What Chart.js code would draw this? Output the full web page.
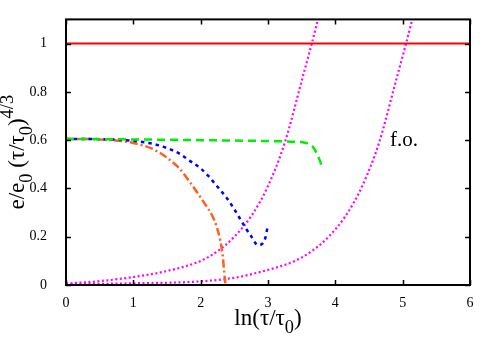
<!DOCTYPE html>
<html lang="en">
<head>
    <meta charset="UTF-8">
    <title>Energy density</title>
    <script src="https://cdn.jsdelivr.net/npm/chart.js"></script>
    <style>
        body { margin: 0; background: #fff; }
        #wrap { width: 498px; height: 349px; }
    </style>
</head>
<body>
    <div id="wrap"><canvas id="energyChart" width="498" height="349"></canvas></div>
    <script>
// values: x = ln(tau/tau0), y = e/e0 (tau/tau0)^(4/3)
const xTicks = [0, 1, 2, 3, 4, 5, 6];
const yTicks = [0, 0.2, 0.4, 0.6, 0.8, 1];

const idealX = [0, 6];
const idealY = [1, 1];

const greenX = [0, 1, 2, 3, 3.4, 3.55, 3.65, 3.72, 3.77, 3.8];
const greenY = [0.605, 0.603, 0.6, 0.596, 0.593, 0.589, 0.578, 0.548, 0.515, 0.49];

const blueX = [0, 0.5, 1, 1.3, 1.5, 1.69, 1.84, 1.99, 2.11, 2.21, 2.31, 2.41, 2.5, 2.59, 2.67, 2.76, 2.85, 2.92, 2.96, 2.99];
const blueY = [0.605, 0.604, 0.597, 0.584, 0.567, 0.543, 0.514, 0.485, 0.453, 0.42, 0.387, 0.352, 0.313, 0.272, 0.235, 0.198, 0.165, 0.172, 0.195, 0.235];

const orangeX = [0, 0.5, 1, 1.3, 1.5, 1.69, 1.84, 1.96, 2.06, 2.17, 2.24, 2.29, 2.33, 2.35, 2.37];
const orangeY = [0.605, 0.603, 0.588, 0.562, 0.527, 0.481, 0.426, 0.379, 0.337, 0.288, 0.24, 0.185, 0.115, 0.05, 0.0];

const fo1X = [0, 0.5, 1, 1.5, 2, 2.25, 2.5, 2.75, 3, 3.25, 3.5, 3.65, 3.76];
const fo1Y = [0.006, 0.016, 0.033, 0.058, 0.1, 0.14, 0.2, 0.285, 0.41, 0.59, 0.845, 1.0, 1.12];

const fo2X = [0, 1, 2, 2.5, 2.9, 3.4, 3.65, 3.9, 4.15, 4.4, 4.65, 4.9, 5.05, 5.16];
const fo2Y = [0.003, 0.007, 0.015, 0.03, 0.055, 0.1, 0.14, 0.2, 0.285, 0.41, 0.59, 0.845, 1.0, 1.12];

function pts(xs, ys) {
    return xs.map((x, i) => ({ x: x, y: ys[i] }));
}

const serif = "'Liberation Serif', 'DejaVu Serif', serif";

// draws text with sub/superscript pieces, centred horizontally on the origin, baseline at y=0
function richText(ctx, parts, size) {
    let total = 0;
    parts.forEach(p => {
        ctx.font = (p.s ? size * 0.8 : size) + "px " + serif;
        p.w = ctx.measureText(p.t).width;
        total += p.w;
    });
    let x = -total / 2;
    ctx.textAlign = "left";
    ctx.textBaseline = "alphabetic";
    parts.forEach(p => {
        ctx.font = (p.s ? size * 0.8 : size) + "px " + serif;
        let dy = p.s === "sub" ? size * 0.35 : (p.s === "sup" ? -size * 0.45 : 0);
        ctx.fillText(p.t, x, dy);
        x += p.w;
    });
}

const framePlugin = {
    id: "frame",
    afterDraw(chart) {
        const ctx = chart.ctx;
        const a = chart.chartArea;
        const xs = chart.scales.x, ys = chart.scales.y;
        ctx.save();
        ctx.strokeStyle = "#000";
        ctx.lineWidth = 2;
        ctx.strokeRect(a.left, a.top, a.right - a.left, a.bottom - a.top);

        // inward ticks on all four sides
        ctx.lineWidth = 1.5;
        ctx.beginPath();
        xTicks.forEach(v => {
            const px = Math.round(xs.getPixelForValue(v)) + 0.5;
            ctx.moveTo(px, a.bottom); ctx.lineTo(px, a.bottom - 5);
            ctx.moveTo(px, a.top); ctx.lineTo(px, a.top + 5);
        });
        yTicks.forEach(v => {
            const py = Math.round(ys.getPixelForValue(v)) + 0.5;
            ctx.moveTo(a.left, py); ctx.lineTo(a.left + 5, py);
            ctx.moveTo(a.right, py); ctx.lineTo(a.right - 5, py);
        });
        ctx.stroke();

        ctx.fillStyle = "#000";
        // x axis title
        ctx.save();
        ctx.translate((a.left + a.right) / 2, 325);
        richText(ctx, [{ t: "ln(\u03c4/\u03c4" }, { t: "0", s: "sub" }, { t: ")" }], 23);
        ctx.restore();

        // y axis title
        ctx.save();
        ctx.translate(23.5, (a.top + a.bottom) / 2);
        ctx.rotate(-Math.PI / 2);
        richText(ctx, [{ t: "e/e" }, { t: "0", s: "sub" }, { t: " (\u03c4/\u03c4" }, { t: "0", s: "sub" }, { t: ")" }, { t: "4/3", s: "sup" }], 23);
        ctx.restore();

        // freeze-out label
        ctx.font = "21px " + serif;
        ctx.textAlign = "center";
        ctx.textBaseline = "middle";
        ctx.fillText("f.o.", xs.getPixelForValue(5.02), ys.getPixelForValue(0.6));
        ctx.restore();
    }
};

const ctx = document.getElementById("energyChart").getContext("2d");
new Chart(ctx, {
    type: "line",
    data: {
        datasets: [
            { data: pts(idealX, idealY), borderColor: "#ff0000", borderWidth: 2 },
            { data: pts(greenX, greenY), borderColor: "#00ee00", borderWidth: 2.5, borderDash: [8, 5] },
            { data: pts(blueX, blueY), borderColor: "#0000ff", borderWidth: 2.5, borderDash: [3.5, 4] },
            { data: pts(orangeX, orangeY), borderColor: "#ff5f1f", borderWidth: 2.5, borderDash: [8, 3, 2, 3] },
            { data: pts(fo1X, fo1Y), borderColor: "#ff00ff", borderWidth: 2.2, borderDash: [2, 2.5] },
            { data: pts(fo2X, fo2Y), borderColor: "#ff00ff", borderWidth: 2.2, borderDash: [2, 2.5] }
        ]
    },
    options: {
        responsive: false,
        animation: false,
        events: [],
        layout: { padding: { left: 0, right: 28, top: 18, bottom: 0 } },
        elements: {
            point: { radius: 0 },
            line: { cubicInterpolationMode: "monotone", fill: false }
        },
        plugins: { legend: { display: false }, tooltip: { enabled: false } },
        scales: {
            x: {
                type: "linear",
                min: 0, max: 6,
                afterFit: s => { s.height = 64; },
                grid: { display: false },
                border: { display: false },
                ticks: { stepSize: 1, padding: 2, color: "#000", font: { family: serif, size: 14 } }
            },
            y: {
                min: 0, max: 1.1,
                afterFit: s => { s.width = 66; },
                grid: { display: false },
                border: { display: false },
                ticks: {
                    stepSize: 0.2, includeBounds: false, padding: 11, color: "#000",
                    font: { family: serif, size: 14 },
                    callback: v => String(+v.toFixed(1))
                }
            }
        }
    },
    plugins: [framePlugin]
});
    </script>
</body>
</html>
